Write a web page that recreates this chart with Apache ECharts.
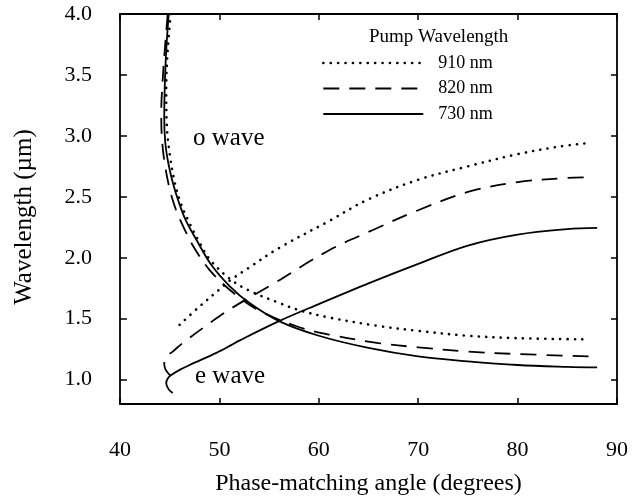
<!DOCTYPE html>
<html><head><meta charset="utf-8">
<script src="https://cdn.jsdelivr.net/npm/echarts@6/dist/echarts.min.js"></script>
<style>html,body{margin:0;padding:0;background:#fff}#c{width:633px;height:501px}</style>
</head><body><div id="c"></div>
<script>
// ---- data ----
const xTicks = [40, 50, 60, 70, 80, 90];
const yTicks = [1.0, 1.5, 2.0, 2.5, 3.0, 3.5, 4.0];
const pumps = ['910 nm', '820 nm', '730 nm'];

// 910 nm pump (dotted)
const o910 = [[45.1,4.0],[44.8,3.7],[44.65,3.4],[44.7,3.1],[45.0,2.85],[45.5,2.62],[46.1,2.45],[46.9,2.3],[47.9,2.14],[49,1.99],[51,1.83],[53,1.73],[56,1.63],[58,1.57],[61,1.51],[66,1.44],[70,1.40],[75,1.36],[80,1.34],[87,1.33]];
const e910 = [[46,1.45],[48,1.60],[50,1.74],[51,1.81],[53,1.92],[56,2.08],[61,2.30],[65,2.48],[70,2.64],[75,2.75],[80,2.85],[84,2.91],[87,2.94]];
// 820 nm pump (dashed)
const o820 = [[44.8,4.0],[44.5,3.7],[44.25,3.4],[44.15,3.2],[44.2,3.0],[44.45,2.8],[44.95,2.58],[45.6,2.4],[46.4,2.25],[47.4,2.09],[49,1.9],[51,1.74],[53.7,1.58],[57.7,1.44],[61,1.37],[66,1.30],[70,1.265],[75,1.23],[80,1.21],[87.5,1.19]];
const e820 = [[45.1,1.03],[44.6,1.08],[44.45,1.13],[44.7,1.19],[45.3,1.23],[46.3,1.30],[49.3,1.48],[51.3,1.59],[55.3,1.78],[61,2.06],[65.5,2.23],[70,2.39],[75,2.54],[80,2.62],[85,2.655],[87.5,2.66]];
// 730 nm pump (solid)
const o730 = [[44.9,4.0],[44.65,3.7],[44.5,3.4],[44.45,3.15],[44.55,2.95],[44.85,2.78],[45.3,2.62],[45.9,2.46],[46.6,2.31],[47.6,2.16],[49.2,1.94],[51,1.77],[53,1.63],[56,1.48],[60,1.36],[65,1.26],[70,1.19],[75,1.15],[80,1.12],[85,1.105],[88,1.1]];
const e730 = [[45.3,0.89],[44.9,0.92],[44.65,0.97],[44.8,1.01],[45.2,1.04],[46,1.08],[47,1.12],[49.7,1.22],[51,1.275],[52,1.32],[56,1.48],[60,1.62],[65,1.79],[70,1.95],[75,2.1],[80,2.19],[85,2.235],[88,2.245]];

const FONT = '"Liberation Serif","Times New Roman",serif';
const styles = {
  '910 nm': {color:'#000', width:2.6, type:[0.1,7.3], cap:'round'},
  '820 nm': {color:'#000', width:1.8, type:[16,10]},
  '730 nm': {color:'#000', width:1.8, type:'solid'}
};
function mk(name, data){
  return {name, type:'line', data, symbol:'none', showSymbol:false, smooth:0.35,
    lineStyle: styles[name], itemStyle:{color:'#000'}, z:3};
}
const chart = echarts.init(document.getElementById('c'));
const axisLine = {show:true, onZero:false, lineStyle:{color:'#000', width:1.8}};
chart.setOption({
  animation:false,
  backgroundColor:'#fff',
  grid:{left:120, right:16, top:14, bottom:95},
  legend:{
    data:pumps.map(p => ({name:p, lineStyle:Object.assign({}, styles[p]), itemStyle:{color:'rgba(0,0,0,0)', borderWidth:0}})),
    orient:'vertical', left:317, top:49, itemWidth:100, itemHeight:14, itemGap:7.5,
    lineStyle:{width:2},
    itemStyle:{color:'rgba(0,0,0,0)', borderWidth:0},
    textStyle:{fontFamily:FONT, fontSize:18, color:'#000', padding:[0,0,0,10]}},
  xAxis:[
    {type:'value', min:40, max:90, interval:10, position:'bottom', axisLine,
     axisTick:{inside:true, length:6, lineStyle:{color:'#000', width:1.5}},
     axisLabel:{fontFamily:FONT, fontSize:22, color:'#000', margin:35},
     splitLine:{show:false},
     name:'Phase-matching angle (degrees)', nameLocation:'middle', nameGap:68,
     nameTextStyle:{fontFamily:FONT, fontSize:24, color:'#000'}},
    {type:'value', min:40, max:90, interval:10, position:'top', axisLine,
     axisTick:{inside:true, length:6, lineStyle:{color:'#000', width:1.5}},
     axisLabel:{show:false}, splitLine:{show:false}}
  ],
  yAxis:[
    {type:'value', min:0.8, max:4.0, position:'left', axisLine,
     axisTick:{inside:true, length:7, customValues:yTicks, lineStyle:{color:'#000', width:1.5}},
     axisLabel:{fontFamily:FONT, fontSize:22, color:'#000', margin:28, customValues:yTicks,
       formatter:v=>Number(v).toFixed(1)},
     splitLine:{show:false}},
    {type:'value', min:0.8, max:4.0, position:'right', axisLine,
     axisTick:{inside:true, length:6, customValues:yTicks, lineStyle:{color:'#000', width:1.5}},
     axisLabel:{show:false}, splitLine:{show:false}}
  ],
  graphic:[
    {type:'text', x:24, y:217, rotation:Math.PI/2,
     style:{text:'Wavelength (\u00b5m)', font:'25px '+FONT, fill:'#000', align:'center', verticalAlign:'middle'}},
    {type:'text', x:369, y:37,
     style:{text:'Pump Wavelength', font:'19px '+FONT, fill:'#000', align:'left', verticalAlign:'middle'}},
    {type:'text', x:193, y:138,
     style:{text:'o wave', font:'25px '+FONT, fill:'#000', align:'left', verticalAlign:'middle'}},
    {type:'text', x:195, y:376,
     style:{text:'e wave', font:'25px '+FONT, fill:'#000', align:'left', verticalAlign:'middle'}}
  ],
  series:[
    mk('910 nm', o910), mk('910 nm', e910),
    mk('820 nm', o820), mk('820 nm', e820),
    mk('730 nm', o730), mk('730 nm', e730)
  ]
});
</script></body></html>
